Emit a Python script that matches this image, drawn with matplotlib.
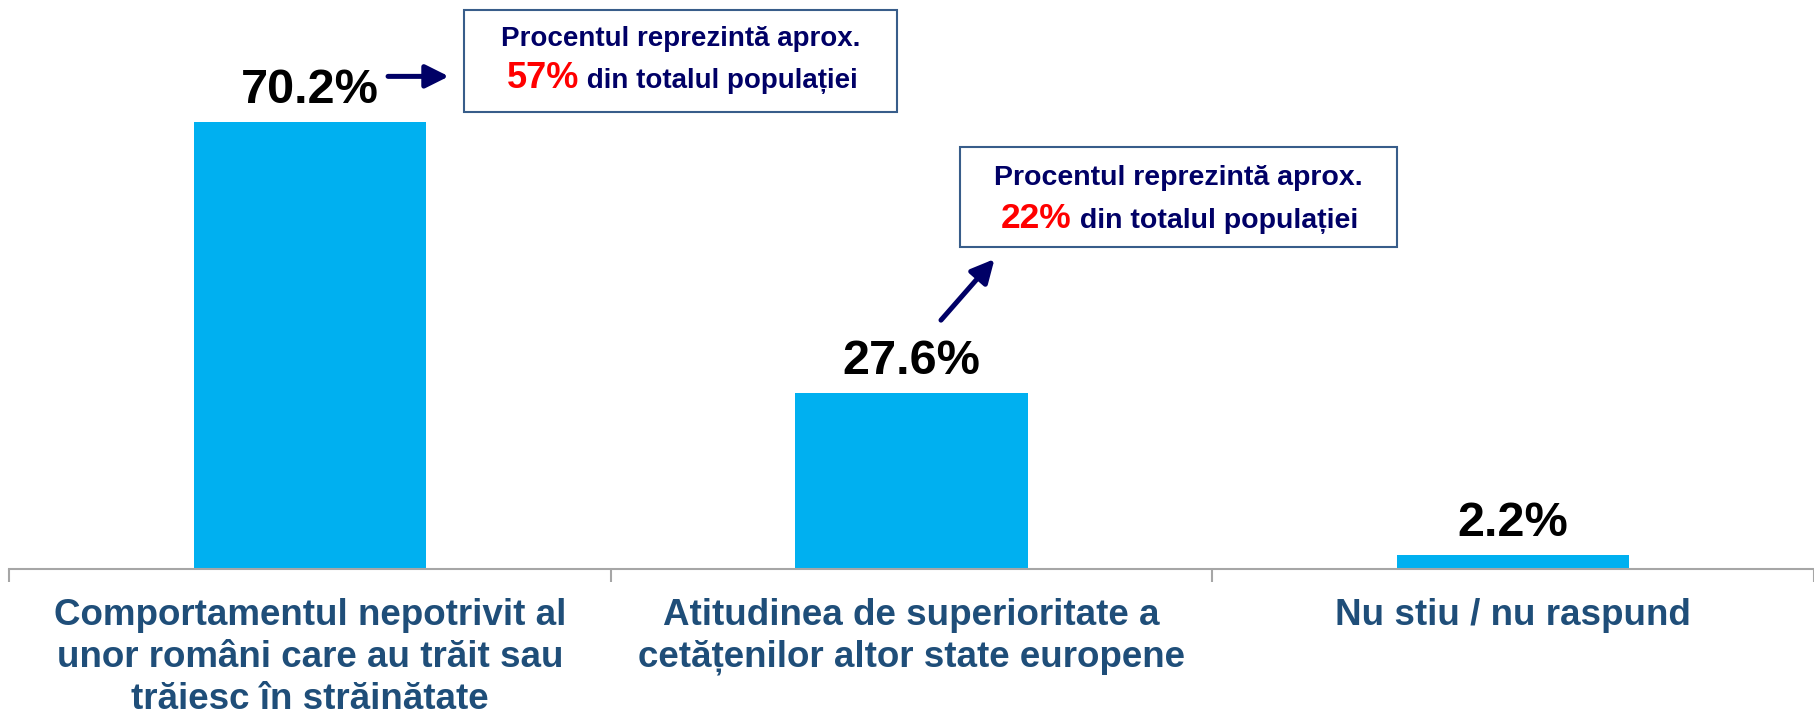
import matplotlib
matplotlib.use("Agg")
import matplotlib.pyplot as plt
from matplotlib.patches import Rectangle

plt.rcParams['font.family'] = ['Liberation Sans', 'DejaVu Sans']

categories = [
    "Comportamentul nepotrivit al\nunor români care au trăit sau\ntrăiesc în străinătate",
    "Atitudinea de superioritate a\ncetățenilor altor state europene",
    "Nu stiu / nu raspund",
]
values = [70.2, 27.6, 2.2]
value_labels = ["70.2%", "27.6%", "2.2%"]
note_line1 = "Procentul reprezintă aprox."
note_pcts = ["57%", "22%"]
note_rest = " din totalul populației"

BAR_COLOR = "#00B0F0"
LABEL_COLOR = "#1F4E79"
NAVY = "#000066"
RED = "#FF0000"
BOX_EDGE = "#385D8A"
AXIS_GRAY = "#A6A6A6"

fig = plt.figure(figsize=(18.14, 7.16), dpi=100)
ax = fig.add_axes([9 / 1814, 1 - 569 / 716, 1 - 9 / 1814, 569 / 716])

x = list(range(len(values)))
ax.bar(x, values, width=0.386, color=BAR_COLOR, zorder=2)
ax.set_xlim(-0.5, 2.5)
ax.set_ylim(0, 89.4)

for xi, v, lab in zip(x, values, value_labels):
    ax.annotate(lab, (xi, v), xytext=(0, 14), textcoords="offset points",
                ha="center", va="baseline", fontsize=35, fontweight="bold",
                color="black")

# axes styling
for s in ["top", "right", "left"]:
    ax.spines[s].set_visible(False)
ax.spines["bottom"].set_color(AXIS_GRAY)
ax.spines["bottom"].set_linewidth(1.5)
ax.set_yticks([])
ax.set_xticks(x)
ax.set_xticklabels(categories, fontsize=26.5, fontweight="bold", color=LABEL_COLOR,
                   linespacing=1.25)
ax.tick_params(axis="x", which="major", length=0, pad=21)
ax.set_xticks([-0.5, 0.5, 1.5, 2.5], minor=True)
ax.tick_params(axis="x", which="minor", length=9, width=1.5, color=AXIS_GRAY)

# callout boxes (x, y in data units): (left, bottom, width, height)
boxes = [(0.256, 71.8, 0.720, 16.0), (1.080, 50.6, 0.727, 15.7)]
line1_y = [82.2, 60.4]
line2_y = [75.5, 53.6]
split_x = [0.447, 1.266]
line1_size = [20, 20.5]
pct_size = [26, 25.5]
for (bx, by, bw, bh), y1, y2, sx, pct, f1, fp in zip(boxes, line1_y, line2_y, split_x,
                                                     note_pcts, line1_size, pct_size):
    ax.add_patch(Rectangle((bx, by), bw, bh, facecolor="white", edgecolor=BOX_EDGE,
                           linewidth=1.5, zorder=3))
    ax.text(bx + bw / 2, y1, note_line1, ha="center", va="baseline", fontsize=f1,
            fontweight="bold", color=NAVY, zorder=4)
    ax.text(sx, y2, pct, ha="right", va="baseline", fontsize=fp,
            fontweight="bold", color=RED, zorder=4)
    ax.text(sx, y2, note_rest, ha="left", va="baseline", fontsize=f1,
            fontweight="bold", color=NAVY, zorder=4)

# arrows
arrow_props = dict(arrowstyle="-|>,head_length=0.7,head_width=0.35", lw=3.6,
                   color=NAVY, mutation_scale=20, shrinkA=0, shrinkB=0)
ax.annotate("", xy=(0.231, 77.4), xytext=(0.130, 77.4), arrowprops=arrow_props)
ax.annotate("", xy=(1.138, 48.7), xytext=(1.049, 39.1), arrowprops=arrow_props)

fig.savefig("out.png", dpi=100)
